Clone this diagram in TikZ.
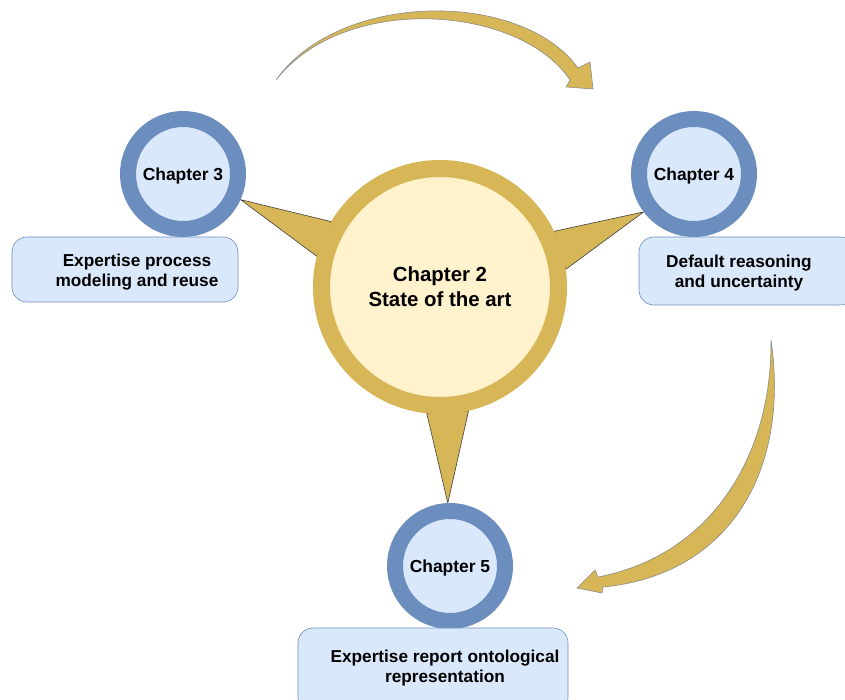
\documentclass[tikz,border=0pt]{standalone}
\usepackage{fontspec}
\setmainfont{Liberation Sans}
\usetikzlibrary{backgrounds}
\definecolor{ringgold}{HTML}{D6B656}
\definecolor{cream}{HTML}{FFF2CC}
\definecolor{ringblue}{HTML}{6C8EBF}
\definecolor{paleblue}{HTML}{DAE8FC}
\tikzstyle{core}=[circle, draw=ringgold, fill=cream, line width=17bp, minimum size=237bp, inner sep=0pt, outer sep=8.5bp, align=center, font=\fontsize{20.5}{25}\selectfont\bfseries]
\tikzstyle{chapter}=[circle, draw=ringblue, fill=paleblue, line width=16bp, minimum size=110bp, inner sep=0pt, outer sep=8bp, text depth=0pt, font=\fontsize{17.5}{21}\selectfont\bfseries]
\tikzstyle{topic}=[rectangle, rounded corners=15bp, draw=ringblue, fill=paleblue, line width=0.6bp]
\tikzstyle{topictext}=[inner sep=0pt, align=center, font=\fontsize{17.3}{20.8}\selectfont\bfseries]
\tikzstyle{spike}=[fill=ringgold, draw=black!75, line width=0.6bp]
\tikzstyle{flow}=[fill=ringgold, draw=black!45, line width=0.6bp]

\begin{document}
\begin{tikzpicture}[x=1bp, y=-1bp]
                    \clip (0,0) rectangle (845,700);
                    \node[core] (ch2) at (440,287) {Chapter 2\\State of the art};
                    \node[chapter] (ch3) at (183,174) {Chapter 3};
                    \node[chapter] (ch4) at (694,174) {Chapter 4};
                    \node[chapter] (ch5) at (450,566) {Chapter 5};
                    \node[topic, minimum width=226bp, minimum height=65bp] (b3) at (125,269.5) {};
                    \node[topic, minimum width=216bp, minimum height=68bp] (b4) at (747,271) {};
                    \node[topic, minimum width=270bp, minimum height=84bp] (b5) at (433,670) {};
                    \node[topictext] (t3) at (137,272) {Expertise process\\modeling and reuse};
                    \node[topictext] (t4) at (739,273) {Default reasoning\\and uncertainty};
                    \node[topictext] (t5) at (445,668) {Expertise report ontological\\representation};
                    \begin{pgfonlayer}{background}
                    \filldraw[spike] (ch2.149)--(ch3.336)--(ch2.166)--cycle;
                    \filldraw[spike] (ch2.26)--(ch4.217)--(ch2.8)--cycle;
                    \filldraw[spike] (ch2.264)--(ch5.92)--(ch2.283)--cycle;
                    \end{pgfonlayer}
                    \filldraw[flow] (276,80) .. controls (340,-10) and (522,-10) .. (578,68)
                        -- (590,62) -- (593,89) -- (566,87) -- (570,80)
                        .. controls (520,5) and (345,-8) .. (276,80) -- cycle;
                    \filldraw[flow] (771,340) .. controls (790,470) and (730,575) .. (603,587)
                        -- (602,593) -- (577,588) -- (595,570) -- (598,577)
                        .. controls (708,556) and (772,460) .. (771,340) -- cycle;
                \end{tikzpicture}
\end{document}
